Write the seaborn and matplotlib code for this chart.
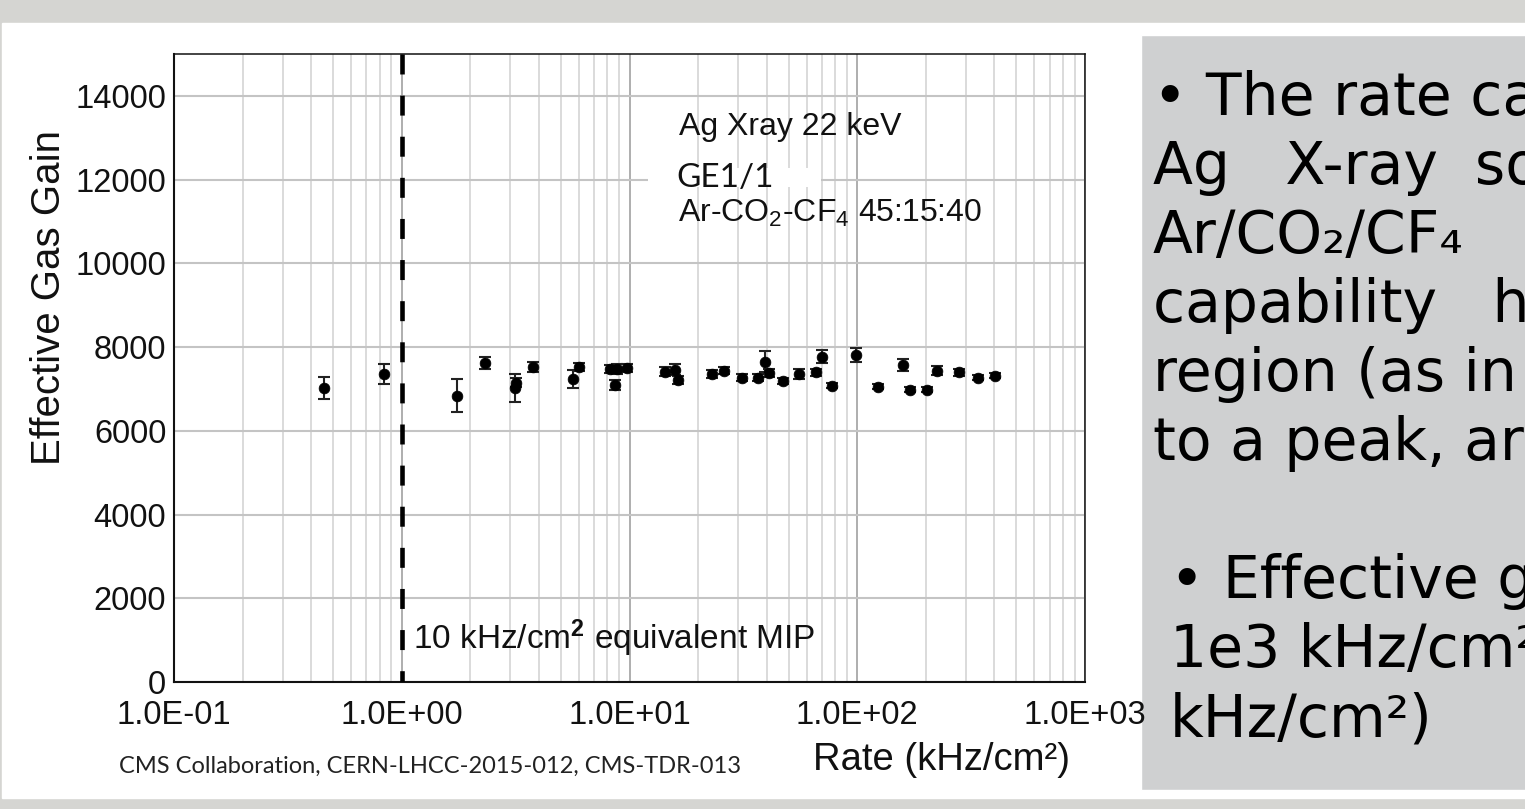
import numpy as np
import matplotlib
matplotlib.use('Agg')
import matplotlib.pyplot as plt
import seaborn as sns
from matplotlib.patches import Rectangle
from matplotlib.ticker import LogLocator, FixedLocator, NullFormatter

# data (rate in kHz/cm2, effective gas gain, +- error)
rate = [0.457, 0.833, 1.74, 2.32, 3.14, 3.19, 3.78, 5.63, 6.02, 8.2, 8.64, 8.78,
        9.72, 14.3, 15.86, 16.4, 22.96, 26.0, 31.3, 36.8, 39.4, 41.0, 47.1, 55.7,
        65.7, 70.2, 77.7, 98.7, 123, 159, 170, 202, 223, 280, 340, 402]
gain = [7018, 7360, 6841, 7615, 7018, 7152, 7520, 7233, 7520, 7480, 7097, 7480,
        7497, 7415, 7456, 7217, 7360, 7440, 7272, 7272, 7655, 7376, 7193, 7360,
        7400, 7773, 7073, 7814, 7057, 7575, 6978, 6978, 7440, 7400, 7272, 7312]
gain_err = [270, 243, 394, 140, 340, 100, 127, 211, 100, 100, 120, 120,
            100, 100, 130, 100, 100, 80, 80, 80, 255, 100, 80, 120,
            80, 160, 60, 160, 60, 135, 60, 60, 110, 80, 60, 60]

x_ticks = [0.1, 1, 10, 100, 1000]
x_tick_labels = ['1.0E-01', '1.0E+00', '1.0E+01', '1.0E+02', '1.0E+03']
y_ticks = [0, 2000, 4000, 6000, 8000, 10000, 12000, 14000]
mip_rate = 1.0

# slide text on the right (cut by the slide edge in the original)
para1 = ['• The rate ca', 'Ag   X-ray  so', 'Ar/CO₂/CF₄',
         'capability   ha', 'region (as in', 'to a peak, ar']
para2 = ['• Effective ga', '1e3 kHz/cm²', 'kHz/cm²)']

sns.set_theme(style='white')
plt.rcParams['font.family'] = ['Liberation Sans', 'DejaVu Sans']
plt.rcParams['mathtext.fontset'] = 'custom'
plt.rcParams['mathtext.rm'] = 'Liberation Sans'
plt.rcParams['mathtext.it'] = 'Liberation Sans:italic'
plt.rcParams['mathtext.bf'] = 'Liberation Sans:bold'
plt.rcParams['mathtext.sf'] = 'Liberation Sans'

W, H = 1525, 809
fig = plt.figure(figsize=(W / 100, H / 100), dpi=100, facecolor='#d5d5d2')

# slide background: white card + grey text box on the right
fig.patches.append(Rectangle((2 / W, (H - 798) / H), 1, (798 - 23) / H,
                             transform=fig.transFigure, facecolor='white', zorder=-2))
fig.patches.append(Rectangle((1141 / W, (H - 790) / H), 0.3, (790 - 35) / H,
                             transform=fig.transFigure, facecolor='#cfd0d1', zorder=-1))

ax = fig.add_axes([174 / W, (H - 682) / H, (1085 - 174) / W, (682 - 54) / H])
ax.set_facecolor('white')
ax.set_xscale('log')
ax.set_xlim(0.1, 1000)
ax.set_ylim(0, 15000)

ax.xaxis.set_major_locator(FixedLocator(x_ticks))
ax.set_xticks(x_ticks, x_tick_labels)
ax.xaxis.set_minor_locator(LogLocator(base=10, subs=np.arange(2, 10)))
ax.xaxis.set_minor_formatter(NullFormatter())
ax.set_yticks(y_ticks, [str(v) for v in y_ticks])

ax.set_axisbelow(True)
ax.grid(which='minor', axis='x', color='#d4d4d4', lw=1.2)
ax.grid(which='major', axis='x', color='#a8a8a8', lw=1.3)
ax.grid(which='major', axis='y', color='#c4c4c4', lw=1.5)

ax.tick_params(axis='both', which='major', labelsize=23.5, length=4, width=1.2,
               color='#777777', direction='out', labelcolor='#111111')
ax.tick_params(axis='x', which='major', pad=9)
ax.tick_params(axis='y', which='major', pad=1.5)
ax.tick_params(axis='x', which='minor', length=0)

for side, sp in ax.spines.items():
    sp.set_color('#111111')
    sp.set_linewidth(1.5 if side in ('left', 'bottom') else 1.1)
    sp.set_visible(True)

# white patch behind "GE1/1"
ax.add_patch(Rectangle((0.520, 0.789), 0.19, 0.03, transform=ax.transAxes,
                       facecolor='white', edgecolor='none', zorder=1.5))

# dashed marker line, drawn top to bottom so the dash pattern starts at the top
ax.axvline(mip_rate, ymin=1, ymax=0, color='black', lw=3.3,
           linestyle=(0, (4.36, 4.61)), zorder=3)

ax.errorbar(rate, gain, yerr=gain_err, fmt='none', ecolor='#222222',
            elinewidth=1.5, capsize=4.5, capthick=1.5, zorder=4)
sns.scatterplot(x=rate, y=gain, color='black', edgecolor='black', s=60,
                linewidth=0.5, ax=ax, zorder=5)

ax.set_xlabel('Rate (kHz/cm²)', fontsize=27.5, color='#111111')
ax.xaxis.label.set_va('center')
ax.xaxis.set_label_coords(0.842, -0.124)
ax.set_ylabel('Effective Gas Gain', fontsize=29, color='#111111')
ax.yaxis.label.set_va('center')
ax.yaxis.set_label_coords(-0.137, 0.613)

ax.text(16.5, 13073, 'Ag Xray 22 keV', fontsize=23, va='baseline', color='#111111', zorder=6)
ax.text(16.0, 11830, 'GE1/1', fontsize=24, family='Lato', va='baseline', color='#111111', zorder=6)
ax.text(16.3, 10994, r'Ar-CO$_2$-CF$_4$ 45:15:40', fontsize=23, va='baseline',
        color='#111111', zorder=6)
ax.text(1.12, 790, r'10 kHz/cm$^\mathbf{2}$ equivalent MIP', fontsize=24,
        va='baseline', color='#111111', zorder=6)

fig.text(119 / W, (H - 773) / H, 'CMS Collaboration, CERN-LHCC-2015-012, CMS-TDR-013',
         fontsize=17, family='Lato', va='baseline', color='#222222')

for i, line in enumerate(para1):
    fig.text(1153 / W, (H - (115 + 69 * i)) / H, line, fontsize=42,
             family='DejaVu Sans', va='baseline', color='black')
for i, line in enumerate(para2):
    fig.text(1170 / W, (H - (598 + 69 * i)) / H, line, fontsize=42,
             family='DejaVu Sans', va='baseline', color='black')

fig.savefig('out.png', dpi=100, facecolor=fig.get_facecolor())
